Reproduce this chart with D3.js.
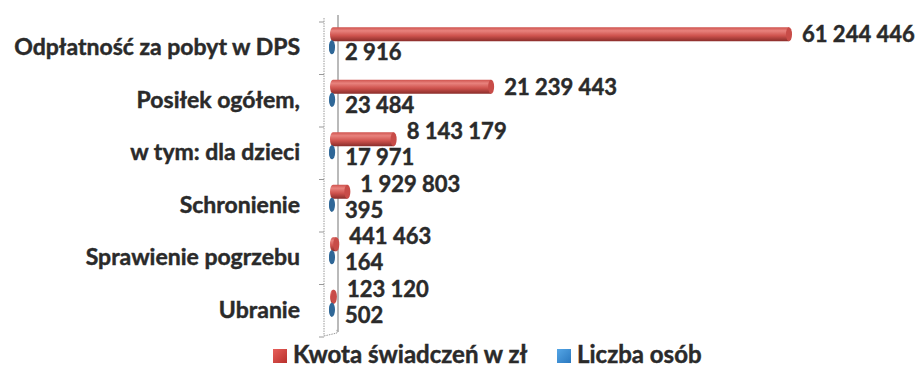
<!DOCTYPE html>
<html>
<head>
<meta charset="utf-8">
<script src="https://cdn.jsdelivr.net/npm/d3@7"></script>
<style>
  html, body { margin: 0; padding: 0; background: #fff; }
  svg { display: block; }
  text {
    font-family: Lato, "Open Sans", sans-serif; font-weight: 700;
    fill: #2a2a2a; stroke: #2a2a2a; stroke-width: 0.45px; paint-order: stroke;
  }
</style>
</head>
<body>
<svg id="chart" width="917" height="367"></svg>
<script>
// Świadczenia: kwota w zł i liczba osób
const categories = [
  "Odpłatność za pobyt w DPS",
  "Posiłek ogółem,",
  "w tym: dla dzieci",
  "Schronienie",
  "Sprawienie pogrzebu",
  "Ubranie"
];
const kwota = [61244446, 21239443, 8143179, 1929803, 441463, 123120];
const osoby = [2916, 23484, 17971, 395, 164, 502];
const seriesNames = ["Kwota świadczeń w zł", "Liczba osób"];

const fmt = v => d3.format(",")(v).replace(/,/g, " ");

const svg = d3.select("#chart");
const defs = svg.append("defs");

function cylGradient(id, light, mid, dark) {
  const g = defs.append("linearGradient").attr("id", id)
    .attr("x1", 0).attr("y1", 0).attr("x2", 0).attr("y2", 1);
  g.append("stop").attr("offset", "0%").attr("stop-color", mid);
  g.append("stop").attr("offset", "25%").attr("stop-color", light);
  g.append("stop").attr("offset", "60%").attr("stop-color", mid);
  g.append("stop").attr("offset", "100%").attr("stop-color", dark);
}
cylGradient("gRed", "#e8827d", "#cf534e", "#8a2d2a");
cylGradient("gBlue", "#6aa2cf", "#3873a5", "#1f4a70");

const lg = defs.append("linearGradient").attr("id", "lgRed")
  .attr("x1", 0).attr("y1", 0).attr("x2", 1).attr("y2", 1);
lg.append("stop").attr("offset", "0%").attr("stop-color", "#e8605b");
lg.append("stop").attr("offset", "100%").attr("stop-color", "#b8302c");
const lb = defs.append("linearGradient").attr("id", "lgBlue")
  .attr("x1", 0).attr("y1", 0).attr("x2", 1).attr("y2", 1);
lb.append("stop").attr("offset", "0%").attr("stop-color", "#55a6e6");
lb.append("stop").attr("offset", "100%").attr("stop-color", "#2a78bf");

const x = d3.scaleLinear().domain([0, d3.max(kwota)]).range([333, 789]);
const y = d3.scaleBand().domain(categories).range([22, 337]);

const R = 7;    // cylinder radius (vertical)
const RX = 3;   // ellipse half-width of cylinder ends

// axis walls
svg.append("line")
  .attr("x1", 338).attr("x2", 338).attr("y1", 15).attr("y2", 332)
  .attr("stroke", "#8c8c8c").attr("stroke-width", 1.2);
svg.append("line")
  .attr("x1", 324).attr("x2", 324).attr("y1", 18).attr("y2", 336)
  .attr("stroke", "#9a9a9a").attr("stroke-width", 1).attr("stroke-dasharray", "1.5,1");
const bounds = categories.map(c => y(c)).concat([y.range()[1]]);
svg.selectAll("line.tick").data(bounds).join("line").attr("class", "tick")
  .attr("x1", 319).attr("x2", 324).attr("y1", d => d).attr("y2", d => d)
  .attr("stroke", "#9a9a9a");
svg.append("path")
  .attr("d", "M324,336 L337,333 L337,329")
  .attr("fill", "none").attr("stroke", "#9a9a9a").attr("stroke-dasharray", "1.5,1");

function cylinder(g, x0, x1, cy, grad, capFill) {
  g.append("path")
    .attr("d", `M${x0},${cy - R} L${x1},${cy - R} L${x1},${cy + R} L${x0},${cy + R} A${RX},${R} 0 0 1 ${x0},${cy - R} Z`)
    .attr("fill", `url(#${grad})`);
  g.append("ellipse")
    .attr("cx", x1).attr("cy", cy).attr("rx", RX).attr("ry", R)
    .attr("fill", capFill);
}

const rows = categories.map((c, i) => ({ c, k: kwota[i], o: osoby[i], i }));
const rowG = svg.selectAll("g.row").data(rows).join("g").attr("class", "row");

rowG.each(function (d) {
  const g = d3.select(this);
  const mid = y(d.c) + y.bandwidth() / 2;
  const redCy = mid - 14;
  const blueCy = mid - 1;
  cylinder(g, x(0), x(d.k), redCy, "gRed", "#c84c48");
  cylinder(g, x(0) - 1, x(d.o) - 1, blueCy, "gBlue", "#2f6797");

  // category label
  g.append("text")
    .attr("x", 300).attr("y", mid + 7)
    .attr("text-anchor", "end").attr("font-size", 23)
    .text(d.c);

  // value labels
  const blueX = x(d.o) + 12;
  const redX = x(d.k) + RX + 10;
  g.append("text")
    .attr("x", blueX).attr("y", mid + 12)
    .attr("font-size", 22)
    .text(fmt(d.o));
  const overlap = redX < blueX + 70;
  g.append("text")
    .attr("x", redX).attr("y", overlap ? mid - 14 : redCy + 8)
    .attr("font-size", 22)
    .text(fmt(d.k));
});

// legend
const legend = svg.append("g");
const items = [
  { name: seriesNames[0], fill: "url(#lgRed)", x: 273 },
  { name: seriesNames[1], fill: "url(#lgBlue)", x: 557 }
];
items.forEach(it => {
  legend.append("rect").attr("x", it.x).attr("y", 349).attr("width", 14).attr("height", 14)
    .attr("fill", it.fill);
  legend.append("text").attr("x", it.x + 20).attr("y", 363)
    .attr("font-size", 24).text(it.name);
});
</script>
</body>
</html>
